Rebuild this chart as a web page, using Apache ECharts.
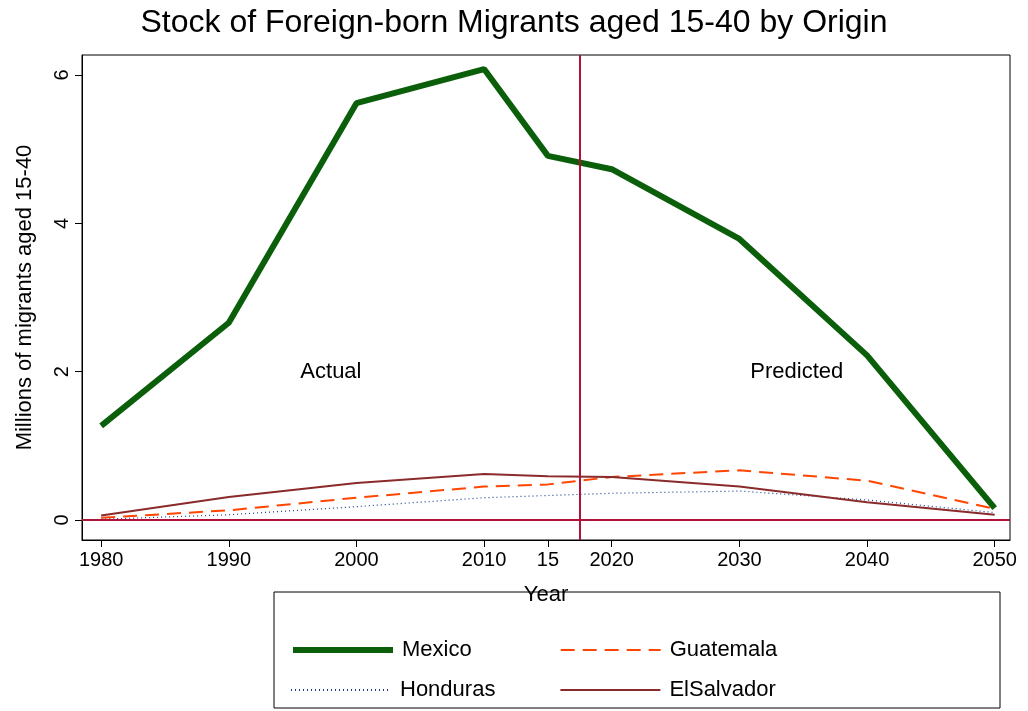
<!DOCTYPE html>
<html>
<head>
<meta charset="utf-8">
<script src="https://cdn.jsdelivr.net/npm/echarts@6/dist/echarts.min.js"></script>
<style>html,body{margin:0;padding:0;background:#fff}#chart{width:1028px;height:711px}</style>
</head>
<body>
<div id="chart"></div>
<script>
var years = [1980, 1990, 2000, 2010, 2015, 2020, 2030, 2040, 2050];
var mexico = [1.27, 2.66, 5.62, 6.08, 4.91, 4.73, 3.79, 2.22, 0.16];
var guatemala = [0.03, 0.13, 0.30, 0.45, 0.48, 0.58, 0.67, 0.53, 0.15];
var honduras = [0.01, 0.07, 0.18, 0.30, 0.33, 0.36, 0.39, 0.27, 0.10];
var elsalvador = [0.06, 0.31, 0.50, 0.62, 0.59, 0.58, 0.45, 0.24, 0.07];
var yTicks = [0, 2, 4, 6];

function pairs(vals) {
    return years.map(function (y, i) { return [y, vals[i]]; });
}

var chart = echarts.init(document.getElementById('chart'));
var font = 'Liberation Sans, Arial, sans-serif';
var legendBase = {
    orient: 'horizontal', itemWidth: 100, itemHeight: 14,
    itemStyle: { opacity: 0 },
    textStyle: { fontSize: 22, color: '#000', fontFamily: font, padding: [0, 0, 0, 4] }
};

chart.setOption({
    animation: false,
    textStyle: { fontFamily: font },
    title: {
        text: 'Stock of Foreign-born Migrants aged 15-40 by Origin',
        left: 'center', top: 2,
        textStyle: { fontSize: 32, fontWeight: 'normal', color: '#000', fontFamily: font }
    },
    grid: { left: 82, right: 18, top: 55, bottom: 171 },
    xAxis: {
        type: 'value', min: 1978.5, max: 2051.2,
        name: 'Year', nameLocation: 'middle', nameGap: 44,
        nameTextStyle: { fontSize: 22, color: '#000' },
        axisLine: { show: true, onZero: false, lineStyle: { color: '#000' } },
        axisTick: { show: true, length: 7, customValues: years, lineStyle: { color: '#000' } },
        axisLabel: {
            customValues: years, fontSize: 20, color: '#000', margin: 10,
            formatter: function (v) { return v === 2015 ? '15' : String(v); }
        },
        splitLine: { show: false }
    },
    yAxis: {
        type: 'value', min: -0.27, max: 6.27,
        name: 'Millions of migrants aged 15-40', nameLocation: 'middle', nameGap: 46,
        nameTextStyle: { fontSize: 22, color: '#000' },
        axisLine: { show: true, lineStyle: { color: '#000' } },
        axisTick: { show: true, length: 7, customValues: yTicks, lineStyle: { color: '#000' } },
        axisLabel: { customValues: yTicks, fontSize: 20, color: '#000', rotate: 90, margin: 10 },
        splitLine: { show: false }
    },
    legend: [
        Object.assign({
            data: [{ name: 'Mexico', lineStyle: { width: 6 } }, 'Guatemala'],
            left: 285, top: 634, itemGap: 88
        }, legendBase),
        Object.assign({ data: ['Honduras', 'ElSalvador'], left: 285, top: 674, itemGap: 64 }, legendBase)
    ],
    graphic: [{
        type: 'rect', shape: { x: 274, y: 592, width: 726, height: 116 },
        style: { fill: 'none', stroke: '#000', lineWidth: 1 }
    }, {
        type: 'rect', shape: { x: 82, y: 55, width: 928, height: 485 },
        style: { fill: 'none', stroke: '#000', lineWidth: 1 }, silent: true
    }],
    series: [{
        name: 'Mexico', type: 'line', data: pairs(mexico), showSymbol: false,
        lineStyle: { color: '#0b5f0b', width: 6 }, itemStyle: { color: '#0b5f0b' },
        markLine: {
            silent: true, symbol: 'none', label: { show: false },
            lineStyle: { color: '#b0103a', width: 2, type: 'solid' },
            data: [{ xAxis: 2017.5 }, { yAxis: 0 }]
        },
        markPoint: {
            symbol: 'circle', symbolSize: 0,
            label: { show: true, fontSize: 22, color: '#000', position: 'inside' },
            data: [
                { coord: [1998, 2], value: 'Actual' },
                { coord: [2034.5, 2], value: 'Predicted' }
            ]
        }
    }, {
        name: 'Guatemala', type: 'line', data: pairs(guatemala), showSymbol: false,
        lineStyle: { color: '#ff4500', width: 2, type: [14, 8] }, itemStyle: { color: '#ff4500' }
    }, {
        name: 'Honduras', type: 'line', data: pairs(honduras), showSymbol: false,
        lineStyle: { color: '#1a3c8c', width: 1.2, type: [1, 3] }, itemStyle: { color: '#1a3c8c' }
    }, {
        name: 'ElSalvador', type: 'line', data: pairs(elsalvador), showSymbol: false,
        lineStyle: { color: '#8b2a2a', width: 2 }, itemStyle: { color: '#8b2a2a' }
    }]
});
</script>
</body>
</html>
